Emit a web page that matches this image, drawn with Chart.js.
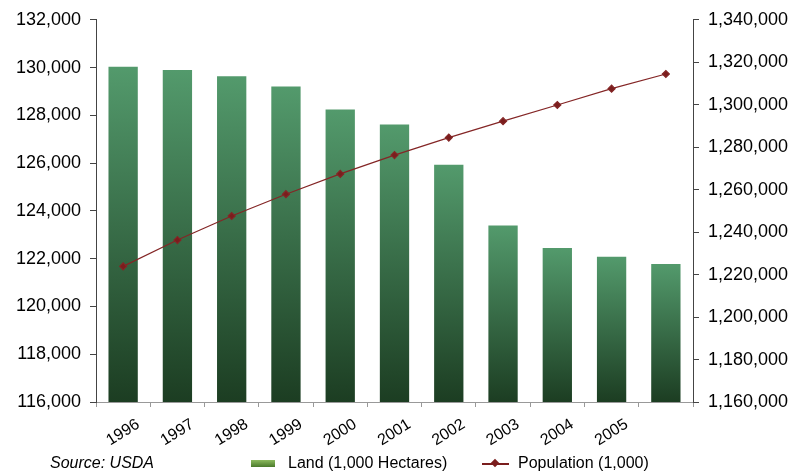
<!DOCTYPE html>
<html lang="en">
<head>
    <meta charset="UTF-8">
    <title>Land vs Population</title>
    <script src="https://cdn.jsdelivr.net/npm/chart.js"></script>
    <style>
        body {
            margin: 0;
            background: #ffffff;
            font-family: "Liberation Sans", Arial, sans-serif;
        }
        #wrap {
            position: relative;
            width: 797px;
            height: 475px;
        }
        #legend {
            position: absolute;
            left: 0;
            top: 452px;
            width: 797px;
            height: 22px;
            font-size: 16px;
            color: #000;
        }
        #legend span {
            position: absolute;
            top: 0;
            line-height: 22px;
            white-space: nowrap;
        }
        .source { left: 50px; font-style: italic; }
        .landBox {
            left: 251px;
            top: 8px !important;
            width: 24px;
            height: 7px;
            background: linear-gradient(#8cba5e, #4a7a2b);
        }
        .popLine {
            left: 482px;
            top: 11px !important;
            width: 27px;
            height: 1.5px;
            background: #7a1d1d;
        }
        .popDot {
            left: 492px;
            top: 8px !important;
            width: 6px;
            height: 6px;
            background: #7a1d1d;
            transform: rotate(45deg);
        }
    </style>
</head>
<body>
<div id="wrap">
    <canvas id="chart" width="797" height="475"></canvas>
    <div id="legend">
        <span class="source">Source: USDA</span>
        <span class="landBox"></span>
        <span style="left:288px">Land (1,000 Hectares)</span>
        <span class="popLine"></span>
        <span class="popDot"></span>
        <span style="left:518px">Population (1,000)</span>
    </div>
</div>

<script>
    // donnees
    const years = ['1996', '1997', '1998', '1999', '2000', '2001', '2002', '2003', '2004', '2005', ''];
    const land = [130039, 129903, 129642, 129206, 128243, 127616, 125930, 123392, 122444, 122083, 121776];
    const population = [1223890, 1236260, 1247610, 1257860, 1267430, 1276270, 1284530, 1292270, 1299880, 1307560, 1314480];

    const landMin = 116000, landMax = 132000, landStep = 2000;
    const popMin = 1160000, popMax = 1340000, popStep = 20000;

    const fmt = v => Number(v).toLocaleString('en-US');

    // degrade vert par barre
    function barGradient(ctx) {
        const chart = ctx.chart;
        const area = chart.chartArea;
        if (!area || ctx.type !== 'data') return '#3f7a52';
        const top = chart.scales.y.getPixelForValue(ctx.raw);
        const g = chart.ctx.createLinearGradient(0, top, 0, area.bottom);
        g.addColorStop(0, '#539a6c');
        g.addColorStop(1, '#1c3d22');
        return g;
    }

    new Chart(document.getElementById('chart'), {
        data: {
            labels: years,
            datasets: [{
                type: 'line',
                label: 'Population (1,000)',
                data: population,
                yAxisID: 'y2',
                borderColor: '#842626',
                backgroundColor: '#7a1d1d',
                borderWidth: 1.2,
                pointStyle: 'rectRot',
                pointRadius: 3.5,
                pointHoverRadius: 3.5,
                tension: 0,
                order: 0
            }, {
                type: 'bar',
                label: 'Land (1,000 Hectares)',
                data: land,
                yAxisID: 'y',
                backgroundColor: barGradient,
                categoryPercentage: 1,
                barPercentage: 0.54,
                order: 1
            }]
        },
        options: {
            responsive: false,
            animation: false,
            layout: { padding: { top: 18, bottom: 0, left: 0, right: 0 } },
            plugins: {
                legend: { display: false },
                tooltip: { enabled: false }
            },
            scales: {
                x: {
                    offset: true,
                    grid: { display: true, offset: true, drawOnChartArea: false, tickLength: 5, color: '#999' },
                    border: { color: '#999' },
                    ticks: {
                        minRotation: 32,
                        maxRotation: 32,
                        labelOffset: 15,
                        padding: 8,
                        color: '#000',
                        font: { family: '"Liberation Sans", Arial', size: 16 }
                    },
                    afterFit: s => { s.height = 73; }
                },
                y: {
                    position: 'left',
                    min: landMin,
                    max: landMax,
                    grid: { drawOnChartArea: false, tickLength: 6, color: '#444' },
                    border: { color: '#444' },
                    ticks: {
                        stepSize: landStep,
                        padding: 9,
                        color: '#000',
                        font: { family: '"Liberation Sans", Arial', size: 18 },
                        callback: fmt
                    },
                    afterFit: s => { s.width = 96; }
                },
                y2: {
                    position: 'right',
                    min: popMin,
                    max: popMax,
                    grid: { drawOnChartArea: false, tickLength: 6, color: '#444' },
                    border: { color: '#444' },
                    ticks: {
                        stepSize: popStep,
                        padding: 9,
                        color: '#000',
                        font: { family: '"Liberation Sans", Arial', size: 18 },
                        callback: fmt
                    },
                    afterFit: s => { s.width = 104; }
                }
            }
        }
    });
</script>
</body>
</html>
